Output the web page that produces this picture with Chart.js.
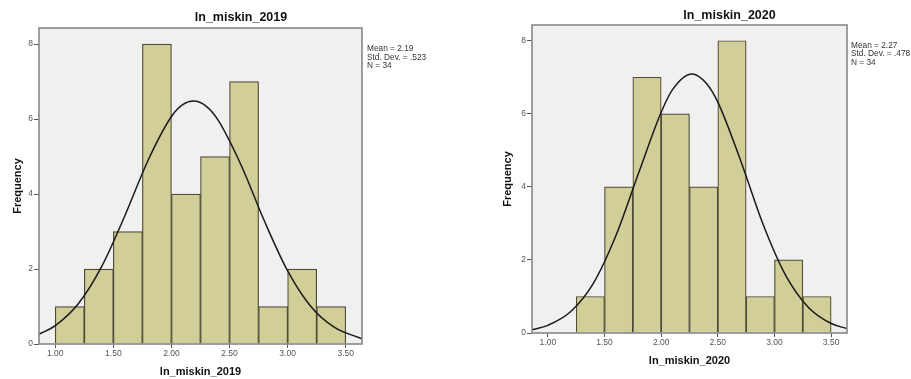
<!DOCTYPE html>
<html>
<head>
<meta charset="utf-8">
<script src="https://cdn.jsdelivr.net/npm/chart.js@4.4.1/dist/chart.umd.min.js"></script>
<style>
  body { margin: 0; background: #fff; }
  .box { position: absolute; top: 0; }
</style>
</head>
<body>
<div class="box" style="left:0"><canvas id="chart2019" width="456" height="379"></canvas></div>
<div class="box" style="left:456px"><canvas id="chart2020" width="455" height="379"></canvas></div>
<script>
// bin lower edges (width 0.25) and frequencies
const binWidth = 0.25;
const bins2019 = [1.00, 1.25, 1.50, 1.75, 2.00, 2.25, 2.50, 2.75, 3.00, 3.25];
const counts2019 = [1, 2, 3, 8, 4, 5, 7, 1, 2, 1];
const bins2020 = [1.25, 1.50, 1.75, 2.00, 2.25, 2.50, 2.75, 3.00, 3.25];
const counts2020 = [1, 4, 7, 6, 4, 8, 1, 2, 1];

// normal curve
const curveX2019 = [0.86, 1.0, 1.2, 1.4, 1.6, 1.8, 2.0, 2.1, 2.19, 2.3, 2.4, 2.6, 2.8, 3.0, 3.2, 3.4, 3.64];
const curveY2019 = [0.26, 0.49, 1.08, 2.07, 3.43, 4.91, 6.07, 6.39, 6.48, 6.34, 5.98, 4.77, 3.28, 1.95, 1.00, 0.45, 0.14];
const curveX2020 = [0.86, 1.0, 1.2, 1.4, 1.6, 1.8, 2.0, 2.1, 2.27, 2.4, 2.5, 2.7, 2.9, 3.1, 3.3, 3.5, 3.64];
const curveY2020 = [0.09, 0.21, 0.58, 1.35, 2.66, 4.37, 6.04, 6.66, 7.09, 6.83, 6.32, 4.73, 2.97, 1.57, 0.70, 0.26, 0.12];

const stats2019 = ['Mean = 2.19', 'Std. Dev. = .523', 'N = 34'];
const stats2020 = ['Mean = 2.27', 'Std. Dev. = .478', 'N = 34'];

const xTicks = [1.00, 1.50, 2.00, 2.50, 3.00, 3.50];
const yTicks = [0, 2, 4, 6, 8];

const FONT = "'Liberation Sans', Arial, sans-serif";

// background, frame, title and stats box like SPSS
const spssPlugin = {
    id: 'spss',
    beforeDraw(chart, args, opts) {
        const a = chart.chartArea;
        const ctx = chart.ctx;
        ctx.save();
        ctx.fillStyle = '#f0f0f0';
        ctx.fillRect(a.left, a.top, a.right - a.left, a.bottom - a.top);
        ctx.restore();
    },
    afterDraw(chart, args, opts) {
        const a = chart.chartArea;
        const ctx = chart.ctx;
        ctx.save();
        ctx.strokeStyle = '#888';
        ctx.lineWidth = 1.6;
        ctx.strokeRect(a.left, a.top, a.right - a.left, a.bottom - a.top);

        ctx.fillStyle = '#111';
        ctx.textAlign = 'center';
        ctx.textBaseline = 'middle';
        ctx.font = 'bold 12.5px ' + FONT;
        ctx.fillText(opts.title, opts.titleX, opts.titleY);

        ctx.fillStyle = '#333';
        ctx.textAlign = 'left';
        ctx.font = '8.3px ' + FONT;
        opts.stats.forEach(function (s, i) {
            ctx.fillText(s, opts.statsX, opts.statsY + i * 8.4);
        });
        ctx.restore();
    }
};

function makeChart(id, bins, counts, cx, cy, cfg) {
    const bars = bins.map(function (b, i) { return { x: b + binWidth / 2, y: counts[i] }; });
    const curve = cx.map(function (x, i) { return { x: x, y: cy[i] }; });

    new Chart(document.getElementById(id), {
        data: {
            datasets: [{
                type: 'line',
                data: curve,
                borderColor: '#1a1a1a',
                borderWidth: 1.5,
                pointRadius: 0,
                cubicInterpolationMode: 'monotone',
                order: 0
            }, {
                type: 'bar',
                data: bars,
                backgroundColor: '#d2ce98',
                borderColor: '#4d4a35',
                borderWidth: 1.2,
                barPercentage: 1,
                categoryPercentage: 1,
                order: 1
            }]
        },
        options: {
            responsive: false,
            animation: false,
            layout: { padding: cfg.padding },
            plugins: {
                legend: { display: false },
                tooltip: { enabled: false },
                spss: cfg.text
            },
            scales: {
                x: {
                    type: 'linear',
                    min: 0.86,
                    max: 3.64,
                    offset: false,
                    afterBuildTicks: function (s) { s.ticks = xTicks.map(function (v) { return { value: v }; }); },
                    afterFit: function (s) { s.height = cfg.xHeight; },
                    grid: { offset: false, drawOnChartArea: false, drawTicks: true, tickLength: 4, color: '#555' },
                    border: { display: false },
                    ticks: {
                        padding: 1,
                        color: '#555',
                        font: { family: FONT, size: 8.5 },
                        maxRotation: 0,
                        callback: function (v) { return v.toFixed(2); }
                    },
                    title: {
                        display: true,
                        text: cfg.xTitle,
                        color: '#111',
                        font: { family: FONT, size: 11, weight: 'bold' },
                        padding: { top: 0, bottom: cfg.xTitlePad }
                    }
                },
                y: {
                    min: 0,
                    max: 8.43,
                    afterBuildTicks: function (s) { s.ticks = yTicks.map(function (v) { return { value: v }; }); },
                    afterFit: function (s) { s.width = cfg.yWidth; },
                    grid: { drawOnChartArea: false, drawTicks: true, tickLength: 5, color: '#555' },
                    border: { display: false },
                    ticks: {
                        padding: 1,
                        color: '#555',
                        font: { family: FONT, size: 8.5 }
                    },
                    title: {
                        display: true,
                        text: 'Frequency',
                        color: '#111',
                        font: { family: FONT, size: 11, weight: 'bold' },
                        padding: { top: cfg.yTitlePad, bottom: 0 }
                    }
                }
            }
        },
        plugins: [spssPlugin]
    });
}

makeChart('chart2019', bins2019, counts2019, curveX2019, curveY2019, {
    padding: { left: 0, top: 28, right: 94, bottom: 0 },
    xHeight: 35,
    yWidth: 39,
    xTitle: 'ln_miskin_2019',
    xTitlePad: 0,
    yTitlePad: 11,
    text: { title: 'ln_miskin_2019', titleX: 241, titleY: 18, stats: stats2019, statsX: 367, statsY: 49 }
});

makeChart('chart2020', bins2020, counts2020, curveX2020, curveY2020, {
    padding: { left: 0, top: 25, right: 64, bottom: 0 },
    xHeight: 46,
    yWidth: 76,
    xTitle: 'ln_miskin_2020',
    xTitlePad: 11,
    yTitlePad: 45,
    text: { title: 'ln_miskin_2020', titleX: 273.5, titleY: 15.5, stats: stats2020, statsX: 395, statsY: 45.5 }
});
</script>
</body>
</html>
